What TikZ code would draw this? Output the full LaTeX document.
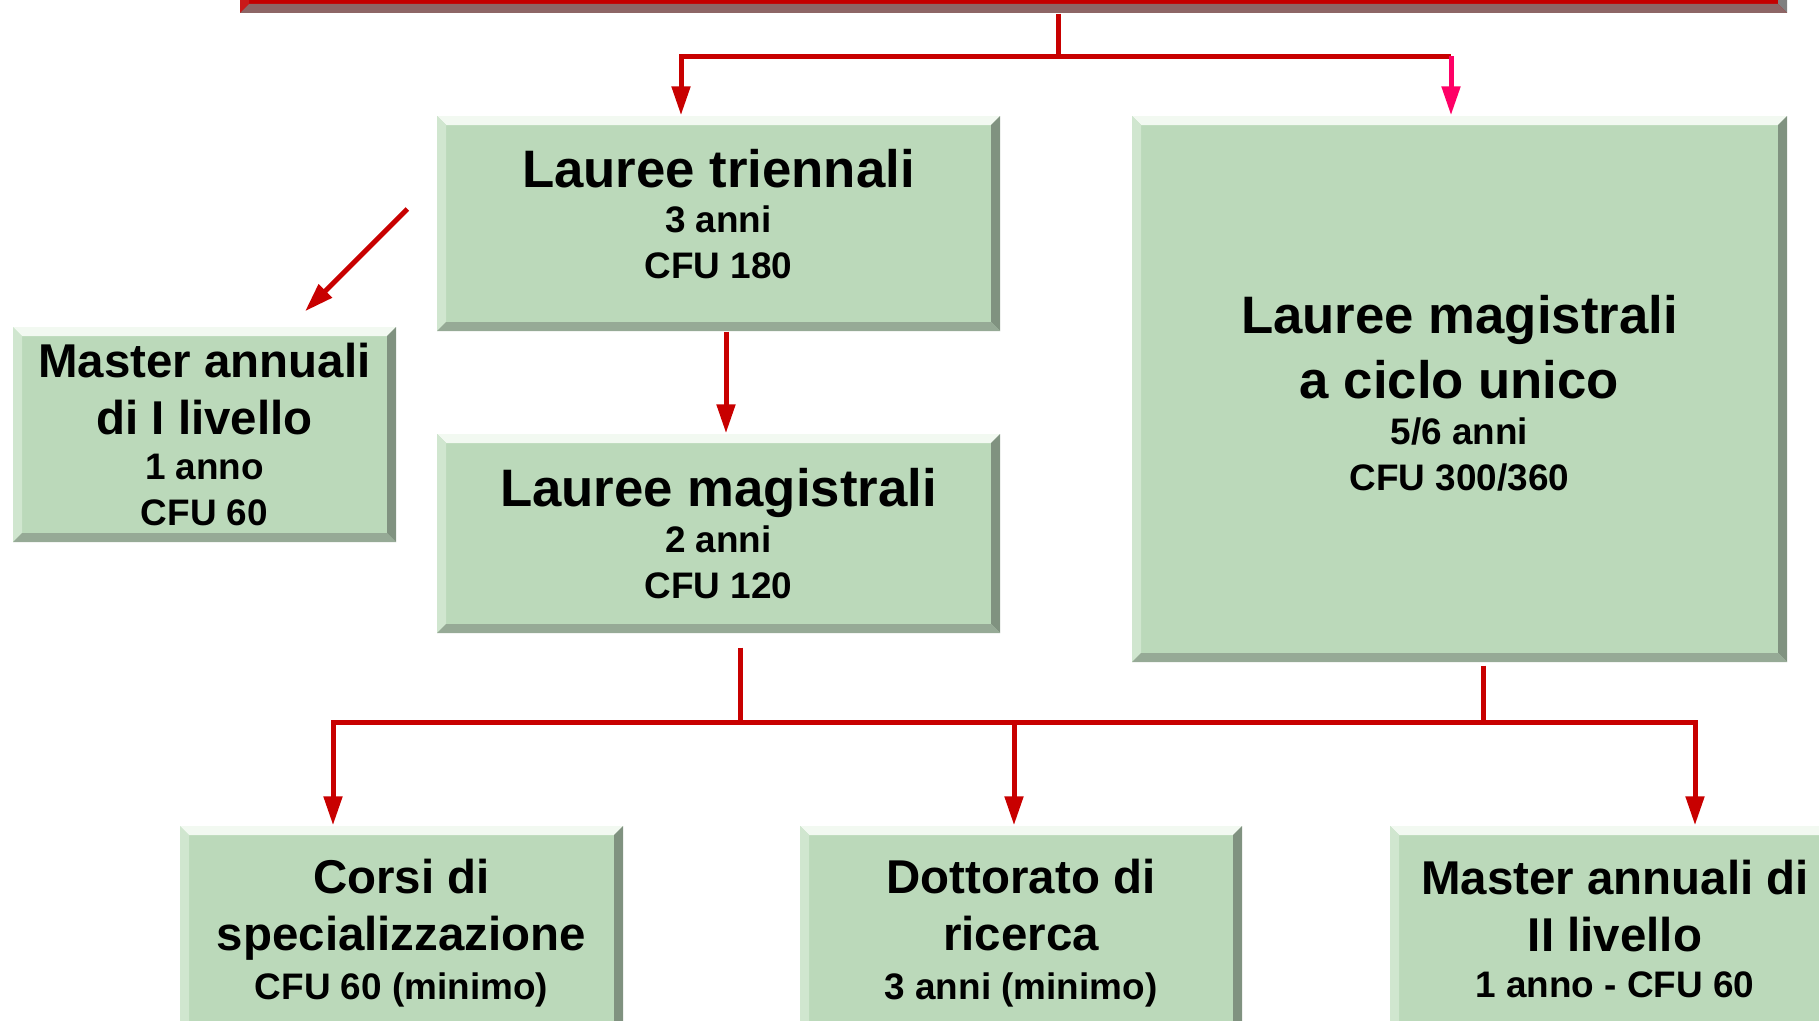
\documentclass[tikz,border=0pt]{standalone}
\usepackage{fontspec}
\setmainfont{Liberation Sans}
\usetikzlibrary{arrows.meta,positioning}

\definecolor{boxgreen}{RGB}{187,217,186}
\definecolor{bevtop}{RGB}{242,249,241}
\definecolor{bevleft}{RGB}{208,230,207}
\definecolor{bevright}{RGB}{128,146,128}
\definecolor{bevbot}{RGB}{150,170,150}
\definecolor{barred}{RGB}{196,0,0}
\definecolor{linkred}{RGB}{200,0,0}
\definecolor{linkpink}{RGB}{255,0,102}

\newcommand\bevw{0.9mm}
\newcommand\bigtxt{\fontsize{15}{15}\selectfont}
\newcommand\midtxt{\fontsize{13.5}{13.5}\selectfont}

\tikzset{
  bevelled/.style n args={4}{path picture={
    \coordinate (pNW) at (path picture bounding box.north west);
    \coordinate (pNE) at (path picture bounding box.north east);
    \coordinate (pSW) at (path picture bounding box.south west);
    \coordinate (pSE) at (path picture bounding box.south east);
    \fill[#1] (pNW) -- (pNE) -- ++(-\bevw,-\bevw) -- ([shift={(\bevw,-\bevw)}]pNW) -- cycle;
    \fill[#2] (pNW) -- (pSW) -- ++(\bevw,\bevw) -- ([shift={(\bevw,-\bevw)}]pNW) -- cycle;
    \fill[#3] (pNE) -- (pSE) -- ++(-\bevw,\bevw) -- ([shift={(-\bevw,-\bevw)}]pNE) -- cycle;
    \fill[#4] (pSW) -- (pSE) -- ++(-\bevw,\bevw) -- ([shift={(\bevw,\bevw)}]pSW) -- cycle;
  }},
  greenbox/.style={rectangle, fill=boxgreen, align=center, inner sep=0pt,
    bevelled={bevtop}{bevleft}{bevright}{bevbot},
    font=\bfseries\fontsize{10.5}{13}\selectfont},
  redbar/.style={rectangle, fill=barred, inner sep=0pt,
    bevelled={barred!85!white}{barred!90!white}{gray}{gray!80!barred}},
  link/.style={draw=linkred, line width=0.5mm},
  pinklink/.style={draw=linkpink, line width=0.5mm}
}

\begin{document}
\begin{tikzpicture}[x=0.1mm,y=-0.1mm,>={Triangle[length=2.9mm,width=1.8mm]},line join=miter]
\useasboundingbox (0,0) rectangle (1819,1021);
%
  \node (bar) at (1013.5,-25) [redbar, minimum width=154.7mm, minimum height=7.6mm] {};
  \node (tri) at (718.5,223.5) [greenbox, minimum width=56.3mm, minimum height=21.5mm]
    {\bigtxt Lauree triennali\\ 3 anni\\ CFU 180\\[-7.4pt] \mbox{}};
  \node (ciclo) at (1459.5,389) [greenbox, minimum width=65.5mm, minimum height=54.6mm]
    {\mbox{}\\[0.2pt] \bigtxt Lauree magistrali\\[3.5pt] \bigtxt a ciclo unico\\[0.3pt] 5/6 anni\\ CFU 300/360};
  \node (mast1) at (204.5,434.5) [greenbox, minimum width=38.3mm, minimum height=21.5mm]
    {\midtxt Master annuali\\[3.2pt] \midtxt di I livello\\ 1 anno\\ CFU 60};
  \node (mag) at (718.5,533.5) [greenbox, minimum width=56.3mm, minimum height=19.9mm]
    {\bigtxt Lauree magistrali\\ 2 anni\\ CFU 120};
  \node (corsi) at (401.5,933) [greenbox, minimum width=44.3mm, minimum height=21.4mm]
    {\midtxt Corsi di\\[3.2pt] \midtxt specializzazione\\[1pt] CFU 60 (minimo)};
  \node (dott) at (1021,933) [greenbox, minimum width=44.2mm, minimum height=21.4mm]
    {\midtxt Dottorato di\\[3.2pt] \midtxt ricerca\\[1pt] 3 anni (minimo)};
  \node (mast2) at (1615,929) [greenbox, minimum width=45mm, minimum height=20.6mm]
    {\midtxt Master annuali di\\[3.2pt] \midtxt II livello\\ 1 anno - CFU 60};
%
  \coordinate (topfork) at (1058,56);
  \coordinate (pinkdrop) at ([xshift=-0.85mm]ciclo.north);
  \draw [link] (bar.south -| topfork) -- (topfork);
  \draw [link,->] (topfork) -| ([xshift=-3.75mm]tri.north);
  \draw [link] (topfork) -- (pinkdrop |- topfork);
  \draw [pinklink,->] (pinkdrop |- topfork) -- (pinkdrop);
  \draw [link,->] ([xshift=0.75mm]tri.south) -- ([xshift=0.75mm]mag.north);
  \draw [link,->] ([xshift=-2.9mm,yshift=1.45mm]tri.west) -- ([xshift=10.05mm,yshift=1.5mm]mast1.north);
%
  \coordinate (rail) at (0,722);
  \coordinate (magdrop) at ([xshift=2.15mm,yshift=-1.4mm]mag.south);
  \coordinate (cicdrop) at ([xshift=2.35mm,yshift=-0.3mm]ciclo.south);
  \draw [link] (magdrop) -- (magdrop |- rail);
  \draw [link] (cicdrop) -- (cicdrop |- rail);
  \foreach \b/\s in {corsi/-6.85mm,dott/-0.7mm,mast2/8mm}{
    \coordinate (\b-in) at ([xshift=\s]\b.north);
    \draw [link,->] (\b-in |- rail) -- (\b-in);
  }
  \draw [link,line cap=rect] (corsi-in |- rail) -- (mast2-in |- rail);
%
\end{tikzpicture}
\end{document}
